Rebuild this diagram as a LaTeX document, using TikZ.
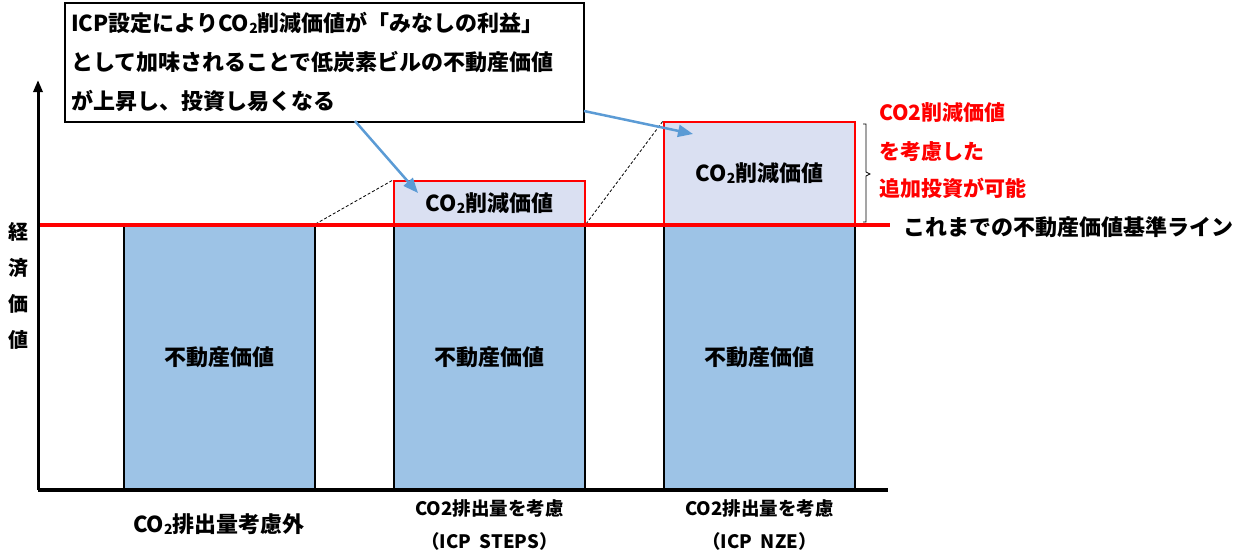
\documentclass[tikz,border=0pt]{standalone}
\usepackage{fontspec}
\setmainfont{Noto Sans CJK JP}
\usetikzlibrary{arrows.meta}
\definecolor{barblue}{HTML}{9DC3E6}
\definecolor{co2fill}{HTML}{DAE0F2}
\definecolor{arrowblue}{HTML}{5B9BD5}
\definecolor{myred}{HTML}{FF0000}
\newcommand{\subtwo}{\raisebox{-0.15ex}{\fontsize{14}{14}\selectfont 2}}
\begin{document}
\begin{tikzpicture}[x=1pt,y=-1pt,
  bar/.style={draw=black,line width=2pt,fill=barblue,minimum width=191pt,minimum height=265pt,inner sep=0pt,font=\fontsize{22}{26}\selectfont\bfseries},
  co2box/.style={draw=myred,line width=2pt,fill=co2fill,minimum width=191pt,inner sep=0pt,font=\fontsize{22}{26}\selectfont\bfseries},
  lbl/.style={font=\fontsize{22}{26}\selectfont\bfseries,inner sep=0pt},
  sublbl/.style={font=\fontsize{18.5}{22}\selectfont\bfseries,inner sep=0pt},
  redlbl/.style={font=\fontsize{21}{24}\selectfont\bfseries,text=myred,inner sep=0pt,anchor=west},
  blueArrow/.style={draw=arrowblue,line width=2.5pt,-{Triangle[length=15pt,width=12pt]}},
  dashline/.style={draw=black,line width=0.8pt,dash pattern=on 3pt off 2pt}
]
\useasboundingbox (0,0) rectangle (1250,551);
% bars
\node[bar] (b1) at (219,357.5) {不動産価値};
\node[bar] (b2) at (489.5,357.5) {不動産価値};
\node[bar] (b3) at (759.5,357.5) {不動産価値};
% CO2 boxes
\node[co2box,minimum height=44pt] (c2) at (489.5,203) {CO\subtwo 削減価値};
\node[co2box,minimum height=103pt] (c3) at (759.5,173.5) {CO\subtwo 削減価値};
% dashed lines
\draw[dashline] (b1.north east) -- (c2.north west);
\draw[dashline] (b1.north east) -- (c2.south west);
\draw[dashline] (b2.north east) -- (c3.north west);
\draw[dashline] (b2.north east) -- (c3.south west);
% base line
\coordinate (rl0) at (38,225);
\coordinate (rl1) at (890,225);
\draw[myred,line width=4pt] (rl0) -- (rl1);
% axes
\coordinate (origin) at (38,490);
\coordinate (ytop) at (38,80);
\coordinate (xend) at (888,490);
\draw[line width=3pt,-{Triangle[length=12pt,width=9pt]}] (origin) -- (ytop);
\draw[line width=3.5pt] (origin) -- (xend);
% axis label
\node[lbl,font=\fontsize{20}{24}\selectfont\bfseries] (y1) at (19,232) {経};
\node[lbl,font=\fontsize{20}{24}\selectfont\bfseries] (y2) at (19,268) {済};
\node[lbl,font=\fontsize{20}{24}\selectfont\bfseries] (y3) at (19,304) {価};
\node[lbl,font=\fontsize{20}{24}\selectfont\bfseries] (y4) at (19,340) {値};
% baseline label
\node[lbl,anchor=west] (base) at (903,227) {これまでの不動産価値基準ライン};
% brace
\coordinate (br0) at (863,124);
\coordinate (br1) at (863,222);
\draw[line width=0.8pt] (br0) -- ++(3,0) -- ++(0,48) -- ++(4,2) -- ++(-4,2) -- (866,222) -- (br1);
% red text
\node[redlbl] (r1) at (879,113) {CO2削減価値};
\node[redlbl] (r2) at (879,152) {を考慮した};
\node[redlbl] (r3) at (879,188) {追加投資が可能};
% callout
\node[draw=black,line width=2pt,fill=white,minimum width=519pt,minimum height=119pt,inner sep=0pt] (call) at (324.5,62.5) {};
\node[lbl,anchor=west] (t1) at (71,23) {ICP設定によりCO\subtwo 削減価値が「みなしの利益」};
\node[lbl,anchor=west] (t2) at (71,62) {として加味されることで低炭素ビルの不動産価値};
\node[lbl,anchor=west] (t3) at (71,101) {が上昇し、投資し易くなる};
% arrows
\coordinate (a1s) at (355,121);
\coordinate (a1e) at (418,193);
\coordinate (a2s) at (584,111);
\coordinate (a2e) at (693,134);
\draw[blueArrow] (a1s) -- (a1e);
\draw[blueArrow] (a2s) -- (a2e);
% bottom labels
\node[lbl] (l1) at (219,524) {CO\subtwo 排出量考慮外};
\node[sublbl] (l2a) at (489.5,508) {CO2排出量を考慮};
\node[sublbl] (l2b) at (489.5,541) {（ICP\ \ STEPS）};
\node[sublbl] (l3a) at (759.5,508) {CO2排出量を考慮};
\node[sublbl] (l3b) at (759.5,541) {（ICP\ \ NZE）};
\end{tikzpicture}
\end{document}
